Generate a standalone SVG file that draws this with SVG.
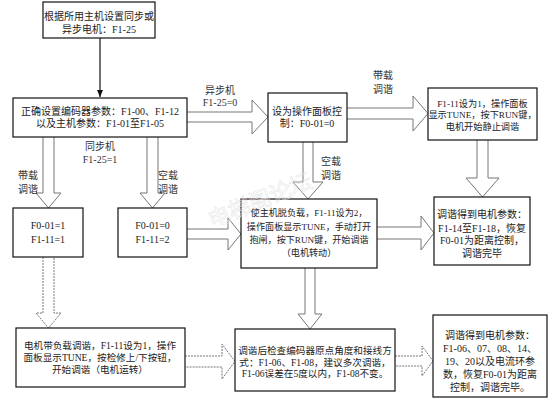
<svg xmlns="http://www.w3.org/2000/svg" width="552" height="403" viewBox="0 0 552 403">
<defs>
<style>
.box{fill:#fff;stroke:#111;stroke-width:1.2}
.t{font-family:"Liberation Serif","Noto Sans CJK SC",serif;font-size:10px;fill:#222;text-anchor:middle}
.lb{font-family:"Liberation Serif","Noto Sans CJK SC",serif;font-size:10px;fill:#333;text-anchor:middle}
.ha{fill:#fff;stroke:#777;stroke-width:1}
.dash{stroke-dasharray:2 1}
.ln{stroke:#111;stroke-width:1.2;fill:none}
.wm{font-family:"Noto Sans CJK SC",sans-serif;font-size:22px;fill:none;stroke:#e2e2e2;stroke-width:0.5}
</style>
<marker id="ah" markerWidth="8" markerHeight="8" refX="7" refY="4" orient="auto" markerUnits="userSpaceOnUse">
<path d="M0,1 L7,4 L0,7 Z" fill="#111"/>
</marker>
</defs>
<rect width="552" height="403" fill="#fff"/>

<g id="connectors">
<line class="ln" x1="100" y1="38" x2="100" y2="97" marker-end="url(#ah)"/>
<path class="ha" d="M187,112 H252 V100 L268,117 L252,134 V122 H187"/>
<path class="ha" d="M347,108 H413 V96 L428,113.5 L413,131 V119 H347"/>
<path class="ha" d="M477,140 V178 H466 L482.5,197 L499,178 H488 V140"/>
<path class="ha" d="M43,137 V193 H36 L48.5,208 L61,193 H54 V137"/>
<path class="ha" d="M147,137 V193 H140 L152.5,208 L165,193 H158 V137"/>
<path class="ha" d="M187,229 H228 V218 L241,234 L228,250 V239 H187"/>
<path class="ha" d="M303,142 V182 H293 L308,199 L323,182 H313 V142"/>
<path class="ha" d="M377,227 H421 V216 L434,233 L421,250 V239 H377"/>
<path class="ha dash" d="M43,257 V313 H36 L48.5,328 L61,313 H54 V257"/>
<path class="ha" d="M305,268 V314 H298 L310,329 L322,314 H315 V268"/>
<path class="ha dash" d="M185,356 H222 V344 L235,361.5 L222,379 V367 H185"/>
<path class="ha dash" d="M395,356 H422 V346 L433,361 L422,376 V366 H395"/>
<text class="lb" x="220" y="94">异步机</text>
<text class="lb" x="220" y="106">F1-25=0</text>
<text class="lb" x="100" y="150">同步机</text>
<text class="lb" x="100" y="163">F1-25=1</text>
<text class="lb" x="28" y="179">带载</text>
<text class="lb" x="28" y="193">调谐</text>
<text class="lb" x="168" y="179">空载</text>
<text class="lb" x="168" y="193">调谐</text>
<text class="lb" x="331" y="165">空载</text>
<text class="lb" x="331" y="179">调谐</text>
<text class="lb" x="383" y="79">带载</text>
<text class="lb" x="383" y="93">调谐</text>
</g>

<g id="n1"><rect class="box" x="43" y="2" width="112" height="36"/>
<text class="t" x="99" y="20">根据所用主机设置同步或</text>
<text class="t" x="99" y="33">异步电机：F1-25</text></g>

<g id="n2"><rect class="box" x="13" y="98" width="174" height="39"/>
<text class="t" x="100" y="115">正确设置编码器参数：F1-00、F1-12</text>
<text class="t" x="100" y="127">以及主机参数：F1-01至F1-05</text></g>

<g id="n3"><rect class="box" x="268" y="93" width="79" height="49"/>
<text class="t" x="307" y="115">设为操作面板控</text>
<text class="t" x="307" y="127">制：F0-01=0</text></g>

<g id="n4"><rect class="box" x="428" y="88" width="109" height="52"/>
<text class="t" x="482.5" y="106.5" style="font-size:9.2px">F1-11设为1，操作面板</text>
<text class="t" x="482.5" y="117.5" style="font-size:9.2px">显示TUNE，按下RUN键，</text>
<text class="t" x="482.5" y="129.5" style="font-size:9.2px">电机开始静止调谐</text></g>

<g id="n5"><rect class="box" x="434" y="197" width="96" height="68"/>
<text class="t" x="482" y="217.5">调谐得到电机参数：</text>
<text class="t" x="482" y="231.5">F1-14至F1-18，恢复</text>
<text class="t" x="482" y="243.5">F0-01为距离控制，</text>
<text class="t" x="482" y="256.5">调谐完毕</text></g>

<g id="n6"><rect class="box" x="13" y="208" width="70" height="49"/>
<text class="t" x="48" y="228.5">F0-01=1</text>
<text class="t" x="48" y="242.5">F1-11=1</text></g>

<g id="n7"><rect class="box" x="118" y="208" width="69" height="49"/>
<text class="t" x="152.5" y="228.5">F0-01=0</text>
<text class="t" x="152.5" y="242.5">F1-11=2</text></g>

<g id="n8"><rect class="box" x="241" y="199" width="136" height="69"/>
<text class="t" x="309" y="216" style="font-size:9.1px">使主机脱负载，F1-11设为2，</text>
<text class="t" x="309" y="230" style="font-size:9.1px">操作面板显示TUNE，手动打开</text>
<text class="t" x="309" y="243" style="font-size:9.1px">抱闸，按下RUN键，开始调谐</text>
<text class="t" x="309" y="256" style="font-size:9.1px">（电机转动）</text></g>

<g id="n9"><rect class="box" x="235" y="329" width="160" height="62"/>
<text class="t" x="315" y="353.5" style="font-size:9.6px">调谐后检查编码器原点角度和接线方</text>
<text class="t" x="315" y="365.5" style="font-size:9.6px">式：F1-06、F1-08，建议多次调谐，</text>
<text class="t" x="315" y="376.5" style="font-size:9.6px">F1-06误差在5度以内，F1-08不变。</text></g>

<g id="n10"><rect class="box" x="16" y="328" width="169" height="59"/>
<text class="t" x="100" y="348.5" style="font-size:9.6px">电机带负载调谐，F1-11设为1，操作</text>
<text class="t" x="100" y="360.5" style="font-size:9.6px">面板显示TUNE，按检修上/下按钮，</text>
<text class="t" x="100" y="372.5" style="font-size:9.6px">开始调谐（电机运转）</text></g>

<g id="n11"><rect class="box" x="433" y="315" width="114" height="82"/>
<text class="t" x="490" y="339">调谐得到电机参数：</text>
<text class="t" x="490" y="352">F1-06、07、08、14、</text>
<text class="t" x="490" y="365">19、20以及电流环参</text>
<text class="t" x="490" y="378">数，恢复F0-01为距离</text>
<text class="t" x="490" y="391">控制，调谐完毕。</text></g>

<g id="watermark"><text class="wm" x="212" y="228" transform="rotate(-22 212 228)">电梯阁论坛</text></g>
</svg>
